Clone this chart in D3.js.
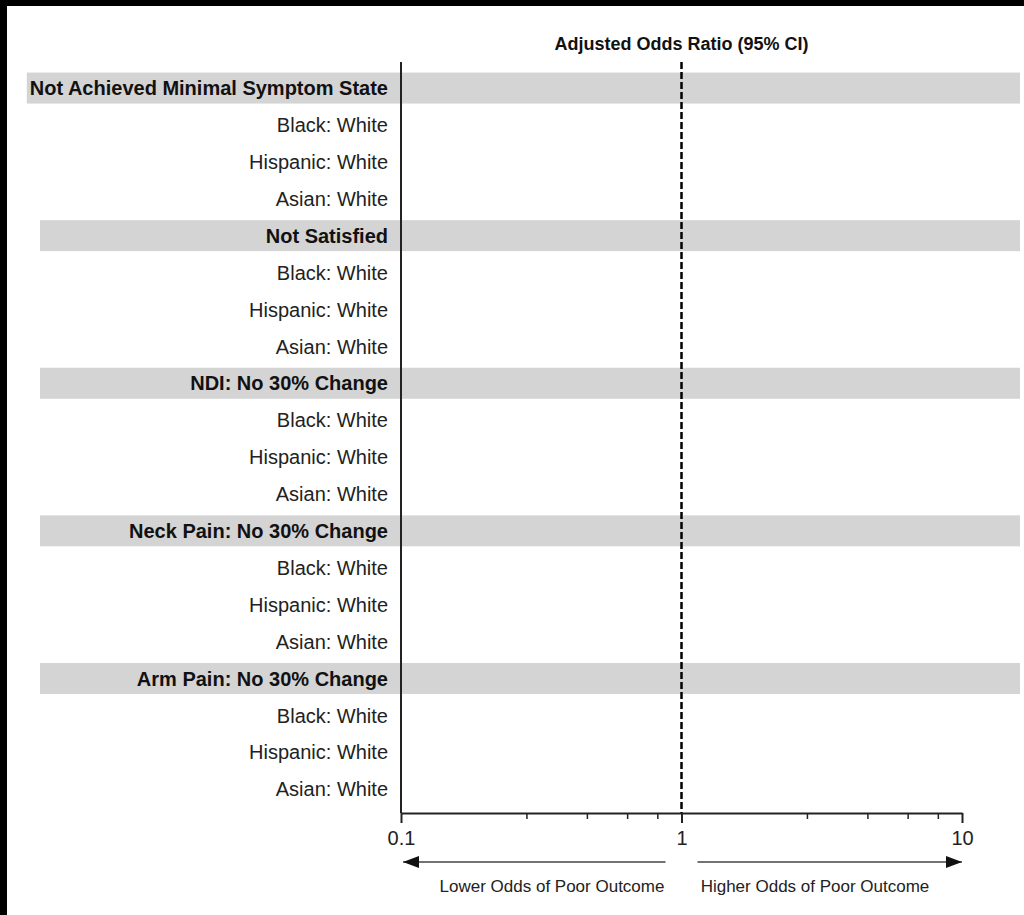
<!DOCTYPE html>
<html>
<head>
<meta charset="utf-8">
<script src="https://cdn.jsdelivr.net/npm/d3@7/dist/d3.min.js"></script>
<style>
  html, body { margin: 0; padding: 0; background: #fff; }
  svg { display: block; font-family: "Liberation Sans", Arial, sans-serif; }
</style>
</head>
<body>
<svg id="chart" width="1024" height="915"></svg>
<script>
// Outcome groups and the race comparisons listed under each
const outcomes = [
  "Not Achieved Minimal Symptom State",
  "Not Satisfied",
  "NDI: No 30% Change",
  "Neck Pain: No 30% Change",
  "Arm Pain: No 30% Change"
];
const comparisons = ["Black: White", "Hispanic: White", "Asian: White"];

// Odds-ratio axis
const oddsDomain = [0.1, 10];
const majorTicks = [0.1, 1, 10];
const minorTicks = [0.28, 0.46, 0.64, 0.82, 2.8, 4.6, 6.4, 8.2];
const referenceOR = 1;

const axisTitle = "Adjusted Odds Ratio (95% CI)";
const lowerLabel = "Lower Odds of Poor Outcome";
const higherLabel = "Higher Odds of Poor Outcome";

// Flatten into display rows: one header followed by its comparisons
const rows = [];
outcomes.forEach(o => {
  rows.push({ label: o, header: true });
  comparisons.forEach(c => rows.push({ label: c, header: false }));
});

const W = 1024, H = 915;
const svg = d3.select("#chart");

// frame strips along the top and left edge
svg.append("rect").attr("x", 0).attr("y", 0).attr("width", W).attr("height", 6).attr("fill", "#000");
svg.append("rect").attr("x", 0).attr("y", 0).attr("width", 7).attr("height", H).attr("fill", "#000");

const plotTop = 62, plotBottom = 813;
const x = d3.scaleLog().domain(oddsDomain).range([401, 962]);
const y = d3.scaleBand().domain(d3.range(rows.length)).range([69.6, 807.6]).padding(0);
const yc = i => y(i) + y.bandwidth() / 2;
const labelRight = 388;

// header bands and row labels
const rowG = svg.append("g");
rows.forEach((r, i) => {
  const g = rowG.append("g");
  const band = r.header ? g.append("rect") : null;
  const t = g.append("text")
    .attr("x", labelRight)
    .attr("y", yc(i))
    .attr("dy", "0.36em")
    .attr("text-anchor", "end")
    .attr("font-size", 20)
    .attr("font-weight", r.header ? "bold" : "normal")
    .attr("fill", r.header ? "#111" : "#222")
    .text(r.label);
  if (band) {
    const tw = t.node().getComputedTextLength();
    const left = Math.min(40, labelRight - tw - 3);
    band.attr("x", left)
      .attr("y", yc(i) - 15.5)
      .attr("width", 1020 - left)
      .attr("height", 31)
      .attr("fill", "#d4d4d4");
  }
});

// title
svg.append("text")
  .attr("x", x(referenceOR))
  .attr("y", 44)
  .attr("dy", "0.36em")
  .attr("text-anchor", "middle")
  .attr("font-size", 18)
  .attr("font-weight", "bold")
  .attr("fill", "#111")
  .text(axisTitle);

// left axis line
svg.append("line")
  .attr("x1", x(oddsDomain[0])).attr("x2", x(oddsDomain[0]))
  .attr("y1", plotTop).attr("y2", plotBottom)
  .attr("stroke", "#222").attr("stroke-width", 2);

// reference line at OR = 1
svg.append("line")
  .attr("x1", x(referenceOR)).attr("x2", x(referenceOR))
  .attr("y1", plotTop).attr("y2", plotBottom)
  .attr("stroke", "#000").attr("stroke-width", 2.5)
  .attr("stroke-dasharray", "7,3");

// bottom axis: minor ticks
const minorAxis = d3.axisBottom(x).tickValues(minorTicks).tickSize(6).tickSizeOuter(0).tickFormat("");
const gMinor = svg.append("g").attr("transform", `translate(0,${plotBottom})`).call(minorAxis);
gMinor.select(".domain").remove();
gMinor.selectAll("line").attr("stroke", "#222").attr("stroke-width", 1.5);

// bottom axis: major ticks and labels
const majorAxis = d3.axisBottom(x).tickValues(majorTicks).tickSize(10).tickSizeOuter(0)
  .tickFormat(d => d3.format("~g")(d));
const gMajor = svg.append("g").attr("transform", `translate(0,${plotBottom})`).call(majorAxis);
gMajor.select(".domain").attr("stroke", "#222").attr("stroke-width", 2);
gMajor.selectAll(".tick line").attr("stroke", "#222").attr("stroke-width", 2);
gMajor.selectAll(".tick text")
  .attr("font-family", "Liberation Sans, Arial, sans-serif")
  .attr("font-size", 20).attr("fill", "#222")
  .attr("y", 18);

// direction arrows
const defs = svg.append("defs");
defs.append("marker")
  .attr("id", "head")
  .attr("viewBox", "0 0 16 12")
  .attr("refX", 16).attr("refY", 6)
  .attr("markerUnits", "userSpaceOnUse")
  .attr("markerWidth", 16).attr("markerHeight", 12)
  .attr("orient", "auto")
  .append("path").attr("d", "M0,0 L16,6 L0,12 Z").attr("fill", "#111");

const arrowY = 862;
svg.append("line")
  .attr("x1", x(referenceOR) - 16).attr("x2", x(oddsDomain[0]) + 2)
  .attr("y1", arrowY).attr("y2", arrowY)
  .attr("stroke", "#444").attr("stroke-width", 1.5)
  .attr("marker-end", "url(#head)");
svg.append("line")
  .attr("x1", x(referenceOR) + 16).attr("x2", x(oddsDomain[1]))
  .attr("y1", arrowY).attr("y2", arrowY)
  .attr("stroke", "#444").attr("stroke-width", 1.5)
  .attr("marker-end", "url(#head)");

svg.append("text")
  .attr("x", 552).attr("y", 886).attr("dy", "0.36em")
  .attr("text-anchor", "middle").attr("font-size", 17).attr("fill", "#222")
  .text(lowerLabel);
svg.append("text")
  .attr("x", 815).attr("y", 886).attr("dy", "0.36em")
  .attr("text-anchor", "middle").attr("font-size", 17).attr("fill", "#222")
  .text(higherLabel);
</script>
</body>
</html>
